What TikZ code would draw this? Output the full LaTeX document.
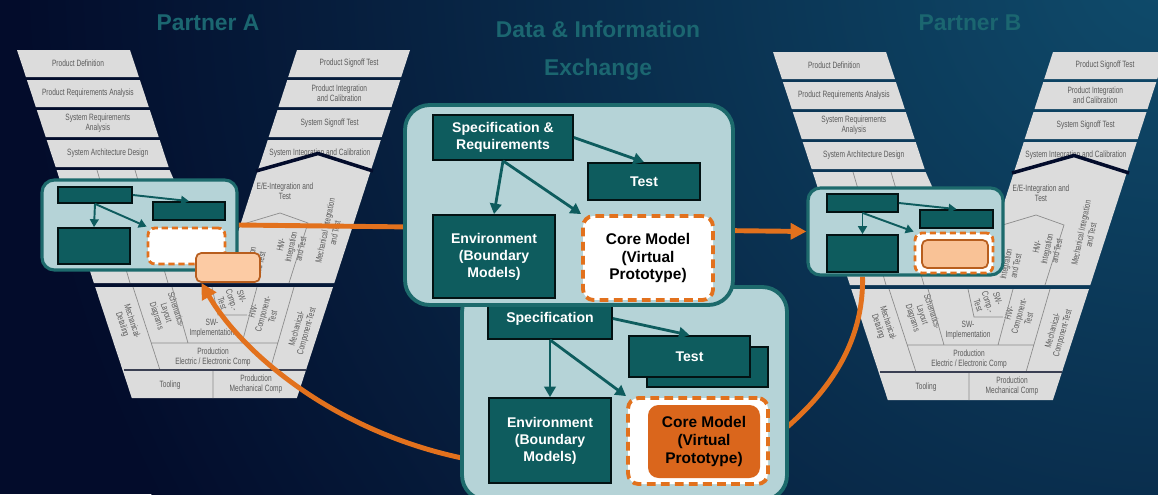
\documentclass[tikz,border=0pt]{standalone}
\usepackage{fontspec}
\setmainfont{Liberation Sans}
\newfontfamily\vmfont[FakeStretch=0.72]{Liberation Sans}
\usetikzlibrary{arrows.meta}
\pgfdeclarelayer{back}
\pgfdeclarelayer{links}
\pgfsetlayers{back,links,main}

\definecolor{bgdark}{HTML}{030C2B}
\definecolor{bglight}{HTML}{0F4C6C}
\definecolor{titleteal}{HTML}{1B6670}
\definecolor{vgray}{HTML}{DCDCDC}
\definecolor{vline}{HTML}{8C8C8C}
\definecolor{vtext}{HTML}{5A5A5A}
\definecolor{panelfill}{HTML}{B5D3D7}
\definecolor{panelrim}{HTML}{1D6A6C}
\definecolor{boxteal}{HTML}{0E5C5E}
\definecolor{exorange}{HTML}{E2711D}
\definecolor{peach}{HTML}{FCCBA4}
\definecolor{peachrim}{HTML}{B85E1E}
\definecolor{coreorange}{HTML}{DA661C}

\tikzset{
  vband/.style={fill=vgray},
  vlabel/.style={font=\vmfont\fontsize{5.2}{5.8}\selectfont, text=vtext, align=center, inner sep=0pt},
  title/.style={font=\bfseries\fontsize{13}{21.5}\selectfont, text=titleteal, align=center},
  panel/.style={draw=panelrim, line width=2.2pt, fill=panelfill, rounded corners=14pt, inner sep=0pt},
  smallpanel/.style={panel, line width=1.8pt, rounded corners=7pt},
  tbox/.style={fill=boxteal, draw=black!80!boxteal, line width=1pt, text=white, font=\bfseries\fontsize{8}{9.6}\selectfont, align=center, inner sep=0pt},
  corebox/.style={fill=white, draw=exorange, line width=2.2pt, dash pattern=on 5pt off 3pt, rounded corners=6pt, font=\bfseries\fontsize{8.8}{10}\selectfont, align=center, inner sep=0pt},
  smallcore/.style={corebox, line width=1.6pt, dash pattern=on 3.5pt off 2.2pt, rounded corners=4pt},
  peachbox/.style={fill=peach, draw=peachrim, line width=1pt, rounded corners=3pt, inner sep=0pt},
  flow/.style={->, draw=boxteal, line width=1.6pt},
  smallflow/.style={-{Triangle[length=4.5pt,width=5pt]}, draw=boxteal, line width=1.1pt},
  exch/.style={draw=exorange, line width=2.8pt}
}

% one V model, #1 = shift, #2 = prefix of the node names
\newcommand{\drawvmodel}[2]{%
\begin{scope}[shift={#1}]
  % left arm
  \fill[vband] (17,50) -- (130,50) -- (138.9,77) -- (25.9,77) -- cycle;
  \fill[vband] (26.9,80) -- (139.9,80) -- (148.8,107) -- (35.8,107) -- cycle;
  \fill[vband] (36.8,110) -- (149.8,110) -- (158.7,137) -- (45.7,137) -- cycle;
  \fill[vband] (46.7,140) -- (159.7,140) -- (168.6,167) -- (55.6,167) -- cycle;
  % right arm
  \fill[vband] (297,50) -- (410,50) -- (401.2,77) -- (288.2,77) -- cycle;
  \fill[vband] (287.3,80) -- (400.3,80) -- (391.5,107) -- (278.5,107) -- cycle;
  \fill[vband] (277.5,110) -- (390.5,110) -- (381.7,137) -- (268.7,137) -- cycle;
  \fill[vband] (267.8,140) -- (380.8,140) -- (371,170) -- (258,170) -- cycle;
  % bottom of the V
  \fill[vband] (56.6,170) -- (169.6,170) -- (205,250) -- (238,232) -- (258,170) -- (371,170) -- (334.3,283) -- (93.9,283) -- cycle;
  \fill[vband] (95.2,287) -- (333,287) -- (296.9,398) -- (131.8,398) -- cycle;

  \node[vlabel] (#2pdef) at (78,63.5) {Product Definition};
  \node[vlabel] (#2preq) at (87.9,93.5) {Product Requirements Analysis};
  \node[vlabel] (#2sreq) at (97.8,123.5) {System Requirements\\Analysis};
  \node[vlabel] (#2sarch) at (107.7,153.5) {System Architecture Design};
  \node[vlabel] (#2psign) at (349.1,63.5) {Product Signoff Test};
  \node[vlabel] (#2pint) at (339.3,93.5) {Product Integration\\and Calibration};
  \node[vlabel] (#2ssign) at (329.6,123.5) {System Signoff Test};
  \node[vlabel] (#2sint) at (319.9,153) {System Integration and Calibration};
  \node[vlabel] (#2eeint) at (285,191) {E/E-Integration and\\Test};
  \node[vlabel, rotate=78] (#2hwint) at (291,247) {HW-\\Integration\\and Test};
  \node[vlabel, rotate=78] (#2mechint) at (330,232) {Mechanical Integration\\and Test};
  \node[vlabel, rotate=78] (#2swint) at (250,262) {SW-\\Integration\\and Test};
  \node[vlabel, rotate=-72] (#2mdet) at (127,323) {Mechanical-\\Detailing};
  \node[vlabel, rotate=-72] (#2schem) at (166,313) {Schematics-\\Layout\\Diagrams};
  \node[vlabel] (#2swimp) at (212,328) {SW-\\Implementation};
  \node[vlabel, rotate=-72] (#2swcomp) at (232,300) {SW-\\Comp.-\\Test};
  \node[vlabel, rotate=74] (#2hwcomp) at (263,314) {HW-\\Component-\\Test};
  \node[vlabel, rotate=74] (#2mcomp) at (302,330) {Mechanical-\\Component-Test};
  \node[vlabel] (#2prodee) at (213,357) {Production\\Electric / Electronic Comp};
  \node[vlabel] (#2tool) at (170,385) {Tooling};
  \node[vlabel] (#2prodm) at (256,384) {Production\\Mechanical Comp};

  \draw[bgdark, line width=2pt] (256,171) -- (318,153.5) -- (373,171);
  \draw[vline] (97,170) -- (130,283) (135,170) -- (168,283)
    (240,225) -- (280,213) -- (308,223) -- (289,283);
  \draw[vline] (133,287) -- (160,370) (172,287) -- (188,343) (151,343) -- (278,343)
    (212,287) -- (218,315) -- (247,315) (257,287) -- (242,343) (294,287) -- (270,370) (213,370) -- (213,398);
  \draw[bgdark!60!vline, line width=0.8pt] (124,370) -- (306,370);
\end{scope}}

\begin{document}
\begin{tikzpicture}[x=0.02cm, y=-0.02cm, >={Triangle[length=6pt,width=6.5pt]}]
  \useasboundingbox (0,0) rectangle (1158,494);
  \clip (0,0) rectangle (1158,494);

  \begin{pgfonlayer}{back}
    \clip (0,0) rectangle (1158,494);
    \fill[bgdark] (0,0) rectangle (1158,494);
    \shade[inner color=bglight, outer color=bgdark] (1170,-40) circle (1150);
    \drawvmodel{(0,0)}{a}
    \drawvmodel{(756,2)}{b}
  \end{pgfonlayer}

  \node[title] (ta) at (208,23) {Partner A};
  \node[title] (tx) at (598,51) {Data \& Information\\Exchange};
  \node[title] (tb) at (970,23) {Partner B};

  % partner A
  \node[smallpanel, minimum width=3.9cm, minimum height=1.8cm] (pa) at (139.5,225) {};
  \node[tbox, minimum width=1.48cm, minimum height=0.32cm] (a1) at (95,195) {};
  \node[tbox, minimum width=1.44cm, minimum height=0.36cm] (a2) at (189,211) {};
  \node[tbox, minimum width=1.44cm, minimum height=0.72cm] (a3) at (94,246) {};
  \node[smallcore, minimum width=1.54cm, minimum height=0.72cm] (a4) at (186.5,246) {};
  \node[peachbox, minimum width=1.28cm, minimum height=0.58cm] (pk) at (228,267.5) {};
  \draw[smallflow] (a1.south) -- (a3.north);
  \draw[smallflow] (a1.east) -- (a2.north);
  \draw[smallflow] (a1.south) -- (a4.north west);

  % partner B
  \node[smallpanel, minimum width=3.9cm, minimum height=1.74cm] (pb) at (905.5,231.5) {};
  \node[tbox, minimum width=1.42cm, minimum height=0.36cm] (b1) at (862.5,203) {};
  \node[tbox, minimum width=1.46cm, minimum height=0.36cm] (b2) at (956.5,219) {};
  \node[tbox, minimum width=1.42cm, minimum height=0.74cm] (b3) at (862.5,253.5) {};
  \node[smallcore, minimum width=1.56cm, minimum height=0.8cm] (b4) at (954,253) {};
  \node[peachbox, fill=peach!90!exorange, minimum width=1.32cm, minimum height=0.56cm] (b4in) at (955,254) {};
  \draw[smallflow] (b1.south) -- (b3.north);
  \draw[smallflow] (b1.east) -- (b2.north);
  \draw[smallflow] (b1.south) -- (b4.north west);

  % exchange, lower
  \node[panel, minimum width=6.5cm, minimum height=4.26cm] (pc) at (624.5,393.5) {};
  \node[tbox, minimum width=2.48cm, minimum height=0.82cm] (spec2) at (550,318.5) {Specification};
  \node[tbox, minimum width=2.42cm, minimum height=0.8cm] (test2b) at (707.5,367) {};
  \node[tbox, minimum width=2.42cm, minimum height=0.82cm] (test2) at (689.5,356.5) {Test};
  \node[tbox, minimum width=2.44cm, minimum height=1.7cm] (env2) at (550,440.5) {Environment\\(Boundary\\Models)};
  \node[corebox, minimum width=2.8cm, minimum height=1.72cm] (core2) at (698,441) {};
  \node[fill=coreorange, rounded corners=6pt, font=\bfseries\fontsize{8.8}{10}\selectfont, align=center, inner sep=0pt,
    minimum width=2.24cm, minimum height=1.46cm] (core2in) at (704,441.5) {Core Model\\(Virtual\\Prototype)};
  \draw[flow] (spec2.south) -- (env2.north);
  \draw[flow] (spec2.south) -- (core2.north west);
  \draw[flow] (spec2.east) -- (test2.north);

  % exchange, upper
  \node[panel, minimum width=6.56cm, minimum height=4cm] (pt) at (569,205) {};
  \node[tbox, minimum width=2.8cm, minimum height=0.9cm] (spec1) at (503,137.5) {Specification \&\\Requirements};
  \node[tbox, minimum width=2.24cm, minimum height=0.74cm] (test1) at (644,181.5) {Test};
  \node[tbox, minimum width=2.44cm, minimum height=1.66cm] (env1) at (494,256.5) {Environment\\(Boundary\\Models)};
  \node[corebox, minimum width=2.6cm, minimum height=1.68cm] (core1) at (648,258) {Core Model\\(Virtual\\Prototype)};
  \draw[flow] (spec1.south) -- (env1.north);
  \draw[flow] (spec1.south) -- (core1.north west);
  \draw[flow] (spec1.east) -- (test1.north);

  \begin{pgfonlayer}{links}
    \draw[exch, -{Triangle[length=9pt,width=9pt]}] (pa.east) -- (pb.west);
    \draw[exch] (b3.south |- pb.south) .. controls (864,345) and (826,398) .. (core2.east);
    \coordinate (cout) at (462,458);
    \draw[exch, -{Triangle[length=9pt,width=9pt]}] (cout) .. controls (330,430) and (240,350) .. (pk.-150);
  \end{pgfonlayer}
\end{tikzpicture}
\end{document}
